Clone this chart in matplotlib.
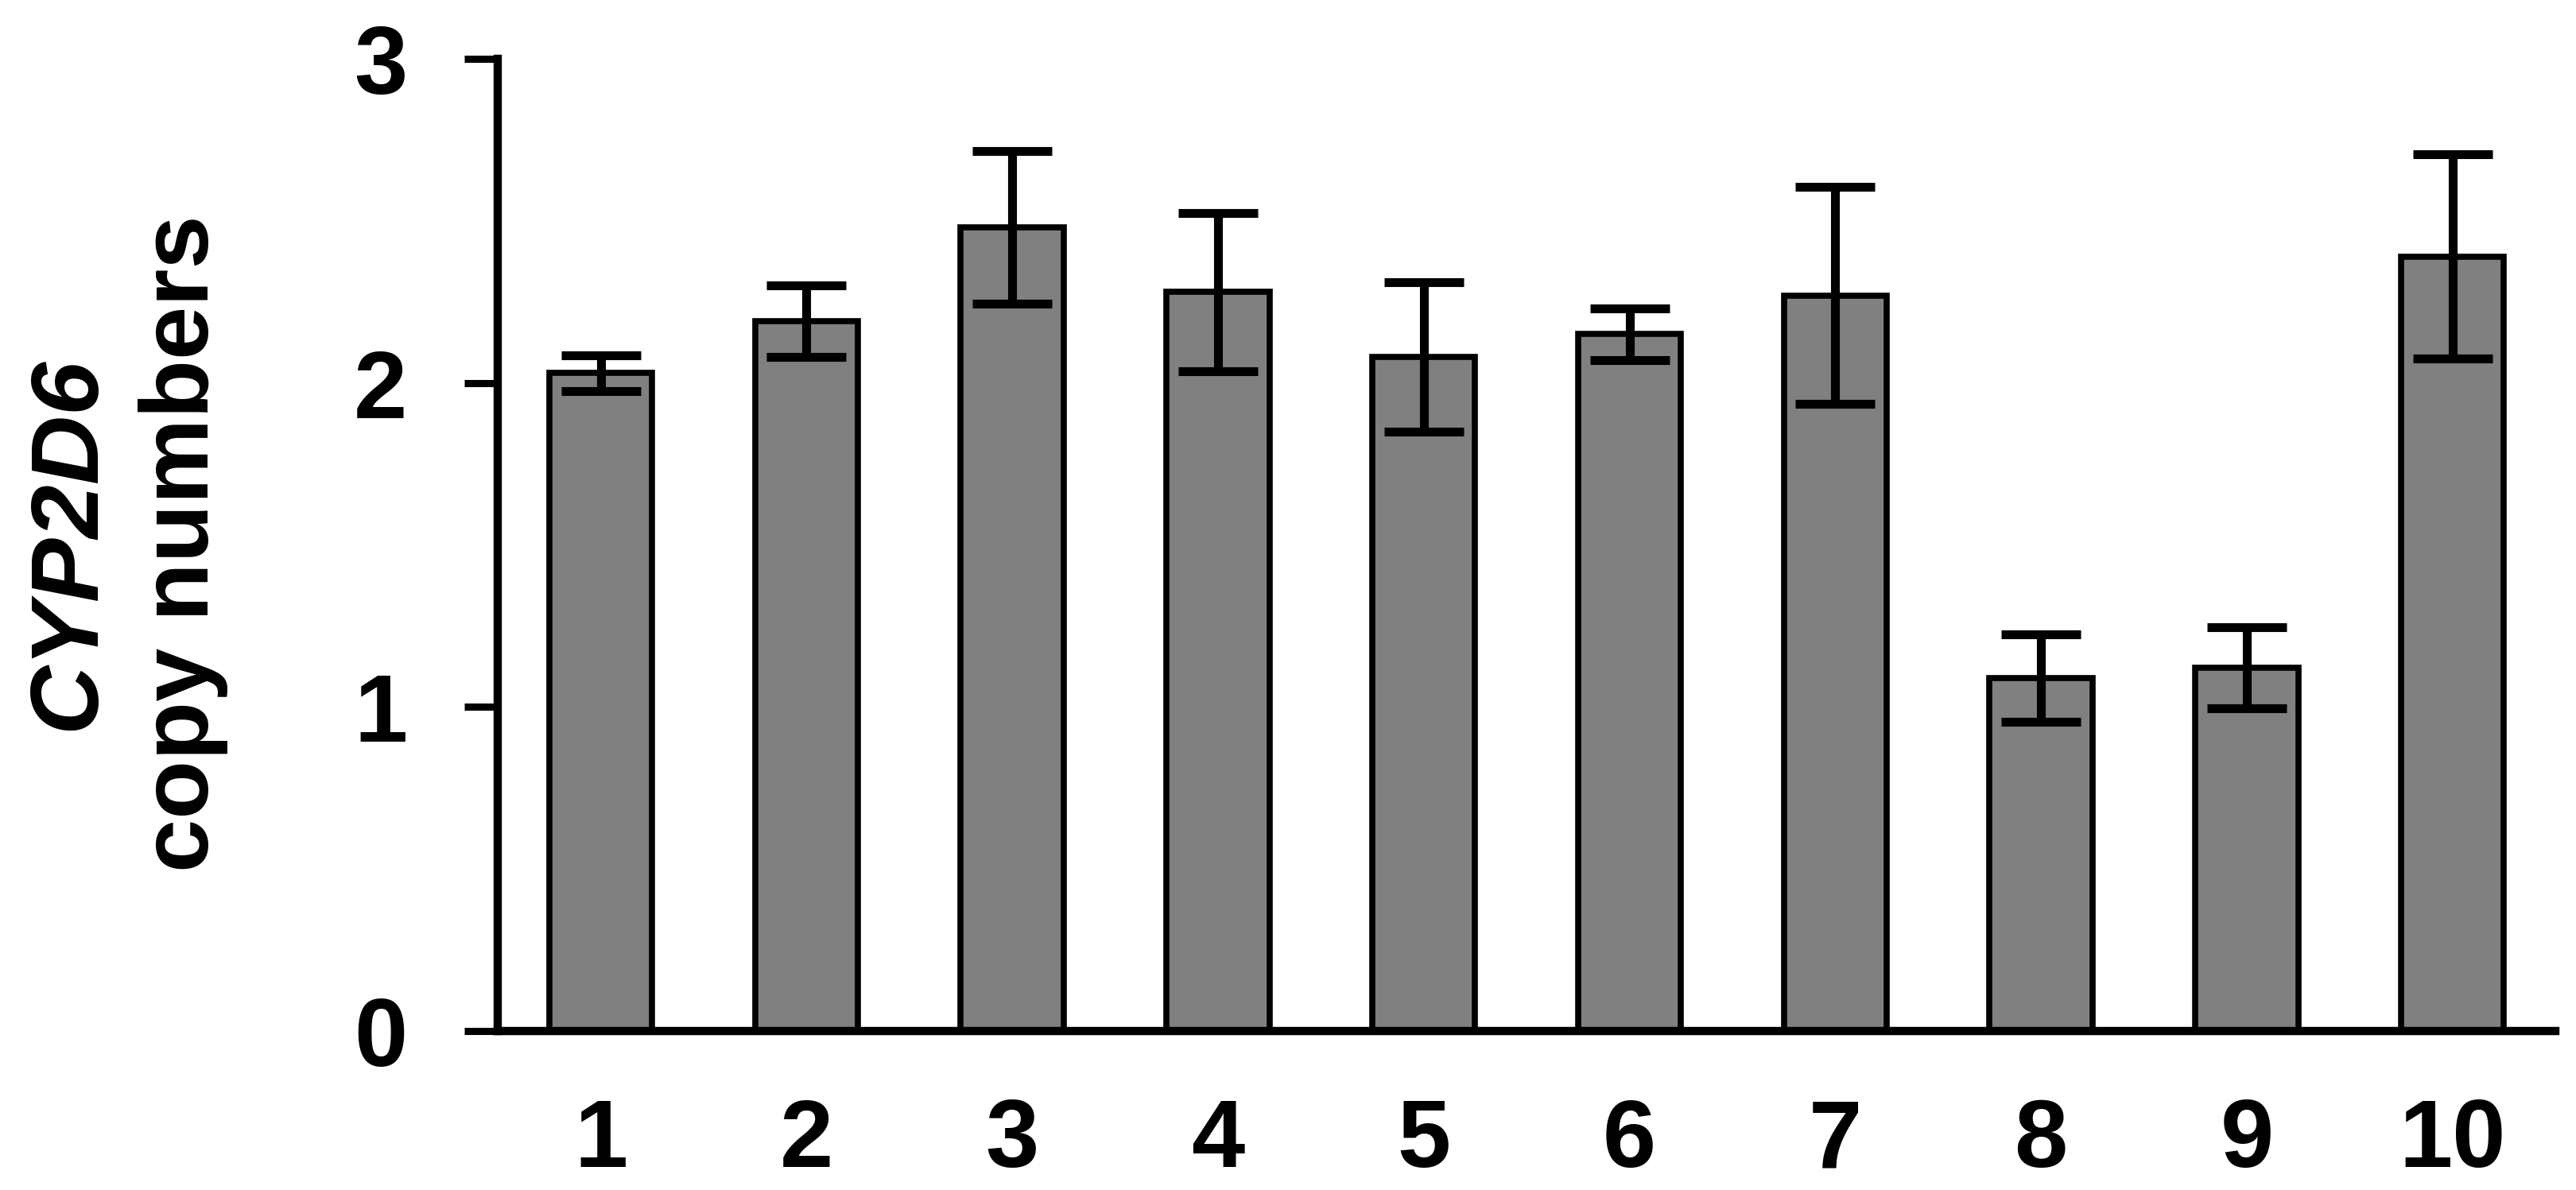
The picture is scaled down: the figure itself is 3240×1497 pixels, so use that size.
import matplotlib
matplotlib.use("Agg")
import matplotlib.pyplot as plt
import numpy as np

plt.rcParams['font.family'] = ['Liberation Sans', 'DejaVu Sans']
plt.rcParams['font.weight'] = 'bold'

# 数据
samples = ['1', '2', '3', '4', '5', '6', '7', '8', '9', '10']
copy_numbers = [2.03, 2.19, 2.48, 2.28, 2.08, 2.15, 2.27, 1.09, 1.12, 2.39]
errors = [0.055, 0.11, 0.235, 0.245, 0.23, 0.08, 0.335, 0.135, 0.125, 0.315]

fig = plt.figure(figsize=(32.41, 14.97), dpi=100)
ax = fig.add_axes([0.1932, 0.1336, 0.7985, 0.817])

x = np.arange(1, len(samples) + 1)
ax.bar(x, copy_numbers, width=0.5, color='#808080', edgecolor='black', linewidth=5.5,
       yerr=errors, error_kw=dict(ecolor='black', elinewidth=8, capsize=36, capthick=8))

ax.set_xlim(0.5, 10.5)
ax.set_ylim(0, 3)
ax.set_yticks([0, 1, 2, 3])
ax.set_xticks(x)
ax.set_xticklabels(samples)

for side in ['top', 'right']:
    ax.spines[side].set_visible(False)
for side in ['left', 'bottom']:
    ax.spines[side].set_linewidth(7.5)

ax.tick_params(axis='y', direction='out', length=30, width=6.5, pad=52, labelsize=87)
ax.tick_params(axis='x', length=0, pad=60, labelsize=87)

# 两行y轴标题，第一行斜体
fig.text(87 / 3241, 0.543, 'CYP2D6', rotation=90, ha='center', va='center',
         fontsize=87, fontweight='bold', fontstyle='italic')
fig.text(231 / 3241, 0.543, 'copy numbers', rotation=90, ha='center', va='center',
         fontsize=87, fontweight='bold')

fig.savefig('out.png', dpi=100)
